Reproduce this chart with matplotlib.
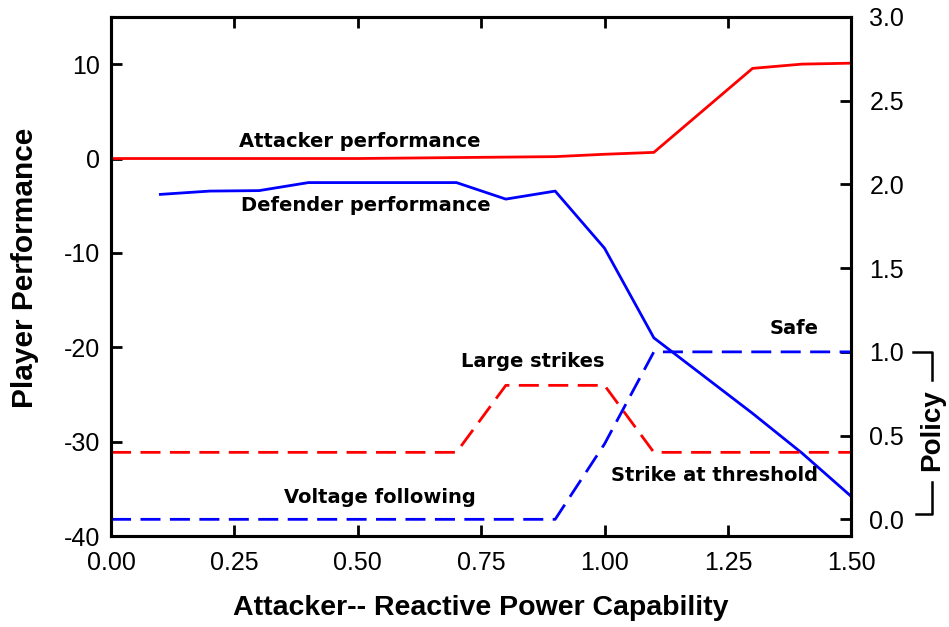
import matplotlib.pyplot as plt
import matplotlib.transforms as mtransforms

# Attacker reactive power capability grid
cap = [0.0, 0.1, 0.2, 0.3, 0.4, 0.5, 0.6, 0.7, 0.8, 0.9, 1.0, 1.1, 1.2, 1.3, 1.4, 1.5]

# Player performance (left axis)
attacker_perf = [0.0, 0.0, 0.0, 0.0, 0.0, 0.0, 0.05, 0.1, 0.15, 0.2, 0.45, 0.65, 5.1, 9.55, 10.0, 10.1]
defender_cap = cap[1:]
defender_perf = [-3.8, -3.45, -3.4, -2.55, -2.55, -2.55, -2.55, -4.3, -3.45, -9.5,
                 -19.0, -23.0, -27.0, -31.2, -35.8]

# Policy (right axis)
attacker_policy = [0.4, 0.4, 0.4, 0.4, 0.4, 0.4, 0.4, 0.4, 0.8, 0.8, 0.8, 0.4, 0.4, 0.4, 0.4, 0.4]
defender_policy = [0.0, 0.0, 0.0, 0.0, 0.0, 0.0, 0.0, 0.0, 0.0, 0.0, 0.45, 1.0, 1.0, 1.0, 1.0, 1.0]

plt.rcParams['font.family'] = ['Liberation Sans', 'DejaVu Sans']
plt.rcParams['axes.unicode_minus'] = False

fig = plt.figure(figsize=(9.49, 6.27), dpi=100)
ax = fig.add_axes([0.117, 0.145, 0.780, 0.828])
ax2 = ax.twinx()

lw = 2.0
ax.plot(cap, attacker_perf, color='#ff0000', lw=lw)
ax.plot(defender_cap, defender_perf, color='#0000ff', lw=lw)
ax2.plot(cap, attacker_policy, color='#ff0000', lw=lw, dashes=(7.2, 3.4))
ax2.plot(cap, defender_policy, color='#0000ff', lw=lw, dashes=(7.2, 3.4))

ax.set_xlim(0, 1.5)
ax.set_ylim(-40, 15)
ax2.set_ylim(-0.1, 3.0)

ax.set_xticks([0, 0.25, 0.5, 0.75, 1.0, 1.25, 1.5])
ax.set_xticklabels(['0.00', '0.25', '0.50', '0.75', '1.00', '1.25', '1.50'])
ax.set_yticks([-40, -30, -20, -10, 0, 10])
ax2.set_yticks([0.0, 0.5, 1.0, 1.5, 2.0, 2.5, 3.0])
ax2.set_yticklabels(['0.0', '0.5', '1.0', '1.5', '2.0', '2.5', '3.0'])

ax.tick_params(axis='x', direction='in', length=8, width=2, top=True,
               labelsize=18, pad=11)
ax.tick_params(axis='y', direction='in', length=8, width=2, labelsize=18, pad=8)
ax2.tick_params(axis='y', direction='in', length=8, width=2, labelsize=18, pad=13)

for a in (ax, ax2):
    for sp in a.spines.values():
        sp.set_linewidth(2.2)

ax.set_xlabel('Attacker-- Reactive Power Capability', fontsize=20.5,
              fontweight='bold', labelpad=14)
ax.set_ylabel('Player Performance', fontsize=21.5, fontweight='bold')
ax.yaxis.set_label_coords(-0.097, 0.516)

# Bracketed "Policy" label next to the right axis
tr = mtransforms.blended_transform_factory(ax2.transAxes, ax2.transData)
bx0, bx1 = 1.084, 1.109
ax2.plot([bx0, bx1, bx1], [1.0, 1.0, 0.83], color='black', lw=1.8,
         transform=tr, clip_on=False)
ax2.plot([bx1, bx1, bx0 + 0.003], [0.22, 0.03, 0.03], color='black', lw=1.8,
         transform=tr, clip_on=False)
ax2.text(bx1, 0.53, 'Policy', transform=tr, rotation=90, ha='center',
         va='center', fontsize=20, fontweight='bold')

# Curve labels
lab = dict(fontsize=14, fontweight='bold', family=['DejaVu Sans'],
           ha='center', va='center')
ax.text(0.505, 1.8, 'Attacker performance', **lab)
ax.text(0.517, -5.0, 'Defender performance', **lab)
ax2.text(0.855, 0.94, 'Large strikes', **lab)
ax2.text(1.385, 1.14, 'Safe', **lab)
ax2.text(1.222, 0.26, 'Strike at threshold', **lab)
ax2.text(0.545, 0.13, 'Voltage following', **lab)

fig.savefig('out.png', dpi=100)
